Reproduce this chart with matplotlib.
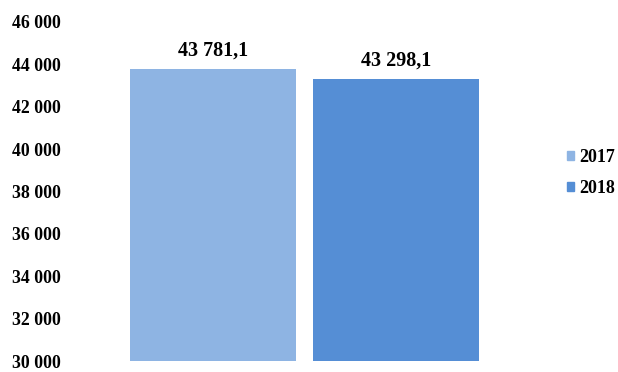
import matplotlib
matplotlib.use('Agg')
from matplotlib import pyplot as plt
from matplotlib.patches import Patch

years = ['2017', '2018']
values = [43781.1, 43298.1]
colors = ['#8EB4E3', '#558ED5']
yticks = [30000, 32000, 34000, 36000, 38000, 40000, 42000, 44000, 46000]

plt.rcParams['font.family'] = ['Liberation Serif', 'DejaVu Serif']
plt.rcParams['font.weight'] = 'bold'

fig = plt.figure(figsize=(6.18, 3.72), dpi=100)
ax = fig.add_axes([130/618, 11/372, 349/618, 339/372])

bw = 0.907
for i, (v, c) in enumerate(zip(values, colors)):
    ax.bar(i, v - 30000, bottom=30000, width=bw, color=c, label=years[i])
    lbl = '{:,.1f}'.format(v).replace(',', ' ').replace('.', ',')
    ax.annotate(lbl, (i, v), xytext=(0, 6), textcoords='offset points',
                ha='center', va='bottom', fontsize=14.5, fontweight='bold')

ax.set_xlim(-0.4535, 1.4535)
ax.set_ylim(30000, 46000)
ax.set_yticks(yticks)
ax.set_yticklabels(['{:,}'.format(t).replace(',', ' ') for t in yticks])
ax.set_xticks([])
ax.tick_params(axis='y', length=0, pad=50, labelsize=12.8)
for s in ax.spines.values():
    s.set_visible(False)

handles = [Patch(color=c, label=y) for y, c in zip(years, colors)]
fig.legend(handles=handles, loc='center left', bbox_to_anchor=(0.903, 0.535),
           frameon=False, borderpad=0, handlelength=0.4, handleheight=0.4,
           handletextpad=0.3, labelspacing=0.75,
           prop={'size': 13, 'weight': 'bold'})

fig.savefig('out.png', dpi=100)
